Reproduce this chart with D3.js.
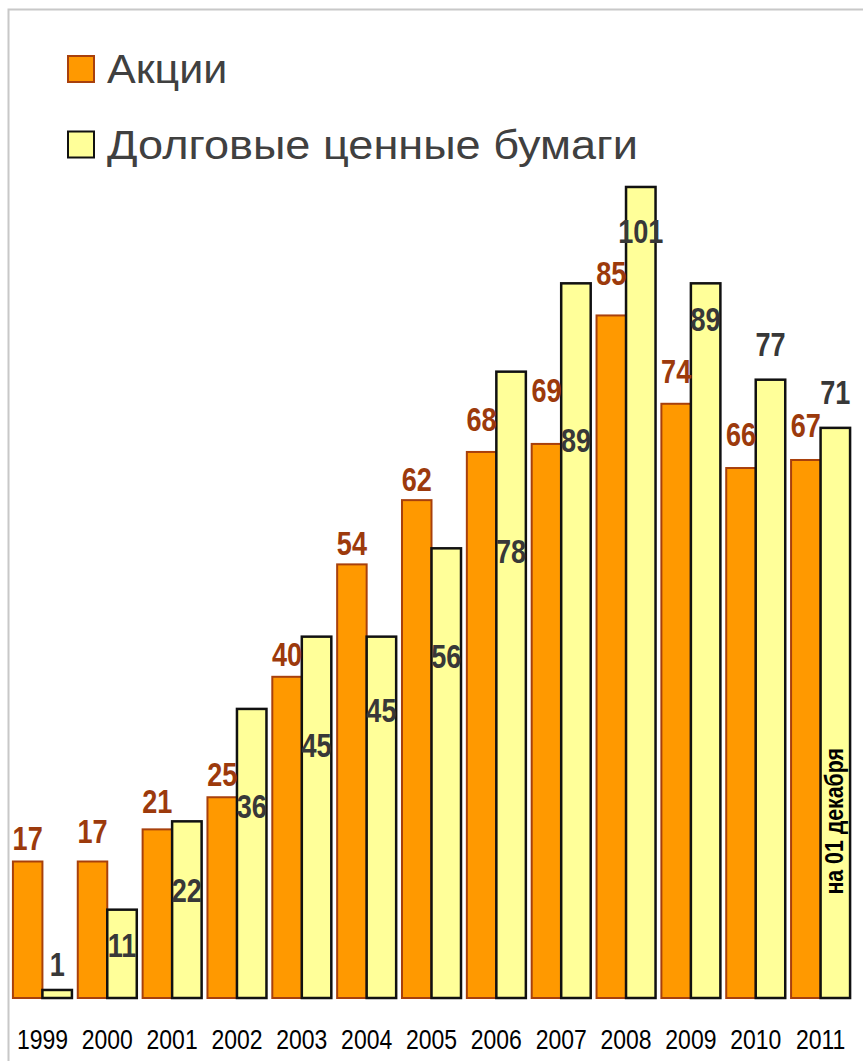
<!DOCTYPE html>
<html>
<head>
<meta charset="utf-8">
<script src="https://cdn.jsdelivr.net/npm/d3@7/dist/d3.min.js"></script>
<style>
  html, body { margin: 0; padding: 0; background: #fff; }
  #canvas { width: 863px; height: 1061px; }
</style>
</head>
<body>
<div id="canvas"></div>
<script>
// data
var years = ['1999', '2000', '2001', '2002', '2003', '2004', '2005', '2006', '2007', '2008', '2009', '2010', '2011'];
var stocks = [17, 17, 21, 25, 40, 54, 62, 68, 69, 85, 74, 66, 67];
var bonds = [1, 11, 22, 36, 45, 45, 56, 78, 89, 101, 89, 77, 71];
// where each value label sits in the original (value units, label baseline)
var stocksLabelAt = [18.4, 19.3, 23, 26.4, 41.3, 55.2, 63.1, 70.6, 74.2, 88.8, 76.6, 68.7, 69.9];
var bondsLabelAt = [2.7, 5.1, 12, 22.4, 30, 34.4, 41.1, 54.2, 68, 94, 83.1, 80, 74];
var seriesNames = ['Акции', 'Долговые ценные бумаги'];
var note = 'на 01 декабря';

var width = 863, height = 1061;
var font = '"Liberation Sans", Arial, sans-serif';
var orange = '#FF9900', orangeStroke = '#A8400C';
var yellow = '#FFFF99', yellowStroke = '#111';

// no narrow font installed: squeeze the regular one horizontally
function squeeze (sel, k) {
  sel.each(function (d, i) {
    var f = typeof k === 'function' ? k(d, i) : k;
    var len = this.getComputedTextLength();
    d3.select(this)
      .attr('textLength', len * f)
      .attr('lengthAdjust', 'spacingAndGlyphs');
  });
}

var svg = d3.select('#canvas')
  .append('svg')
  .attr('width', width)
  .attr('height', height);

// frame
svg.append('rect')
  .attr('x', 8.5)
  .attr('y', 9.5)
  .attr('width', width + 20)
  .attr('height', height + 20)
  .attr('fill', 'none')
  .attr('stroke', '#c8c8c8')
  .attr('stroke-width', 2);

var x = d3.scaleBand()
  .domain(years)
  .range([10, 853])
  .paddingInner(0.09)
  .paddingOuter(0.045);

var x1 = d3.scaleBand()
  .domain(['stocks', 'bonds'])
  .range([0, x.bandwidth()]);

var y = d3.scaleLinear()
  .domain([0, 120])
  .range([998, 998 - 8.03 * 120]);

var rows = years.map(function (yr, i) {
  return { year: yr, stocks: stocks[i], bonds: bonds[i], sl: stocksLabelAt[i], bl: bondsLabelAt[i] };
});

var groups = svg.append('g')
  .selectAll('g')
  .data(rows)
  .enter()
  .append('g')
  .attr('transform', function (d) { return 'translate(' + x(d.year) + ',0)'; });

groups.append('rect')
  .attr('x', x1('stocks'))
  .attr('width', x1.bandwidth())
  .attr('y', function (d) { return y(d.stocks); })
  .attr('height', function (d) { return y(0) - y(d.stocks); })
  .attr('fill', orange)
  .attr('stroke', orangeStroke)
  .attr('stroke-width', 2);

groups.append('rect')
  .attr('x', x1('bonds'))
  .attr('width', x1.bandwidth())
  .attr('y', function (d) { return y(d.bonds); })
  .attr('height', function (d) { return y(0) - y(d.bonds); })
  .attr('fill', yellow)
  .attr('stroke', yellowStroke)
  .attr('stroke-width', 2.5);

groups.append('text')
  .attr('class', 'val')
  .attr('x', x1('stocks') + x1.bandwidth() / 2)
  .attr('y', function (d) { return y(d.sl); })
  .attr('fill', '#9C3A0C')
  .text(function (d) { return d.stocks; });

groups.append('text')
  .attr('class', 'val')
  .attr('x', x1('bonds') + x1.bandwidth() / 2)
  .attr('y', function (d) { return y(d.bl); })
  .attr('fill', '#383838')
  .text(function (d) { return d.bonds; });

svg.selectAll('text.val')
  .attr('text-anchor', 'middle')
  .style('font-family', font)
  .style('font-weight', 'bold')
  .style('font-size', '33px')
  .call(squeeze, 0.82);

// year axis, no line or ticks
var axis = svg.append('g')
  .attr('transform', 'translate(0,' + y(0) + ')')
  .call(d3.axisBottom(x).tickSize(0).tickPadding(0));
axis.select('.domain').remove();
axis.selectAll('text')
  .attr('y', 51)
  .attr('dy', 0)
  .style('font-family', font)
  .style('font-size', '28px')
  .attr('fill', '#000')
  .call(squeeze, 0.82);

// vertical note inside the last bond bar
var last = years[years.length - 1];
svg.append('text')
  .attr('transform', 'translate(' + (x(last) + x1('bonds') + x1.bandwidth() / 2 + 8) + ',' + y(22) + ') rotate(-90)')
  .attr('text-anchor', 'middle')
  .style('font-family', font)
  .style('font-weight', 'bold')
  .style('font-size', '26px')
  .attr('fill', '#000')
  .text(note)
  .call(squeeze, 0.82);

// legend
var legend = svg.append('g')
  .selectAll('g')
  .data(seriesNames)
  .enter()
  .append('g')
  .attr('transform', function (d, i) { return 'translate(68,' + (56 + i * 75.5) + ')'; });

legend.append('rect')
  .attr('width', 26)
  .attr('height', 26)
  .attr('fill', function (d, i) { return i === 0 ? orange : yellow; })
  .attr('stroke', function (d, i) { return i === 0 ? orangeStroke : yellowStroke; })
  .attr('stroke-width', 2);

legend.append('text')
  .attr('x', 39)
  .attr('y', 27)
  .style('font-family', font)
  .style('font-size', '41px')
  .attr('fill', '#404040')
  .text(function (d) { return d; })
  .call(squeeze, function (d, i) { return i === 0 ? 1.05 : 1.1; });
</script>
</body>
</html>
